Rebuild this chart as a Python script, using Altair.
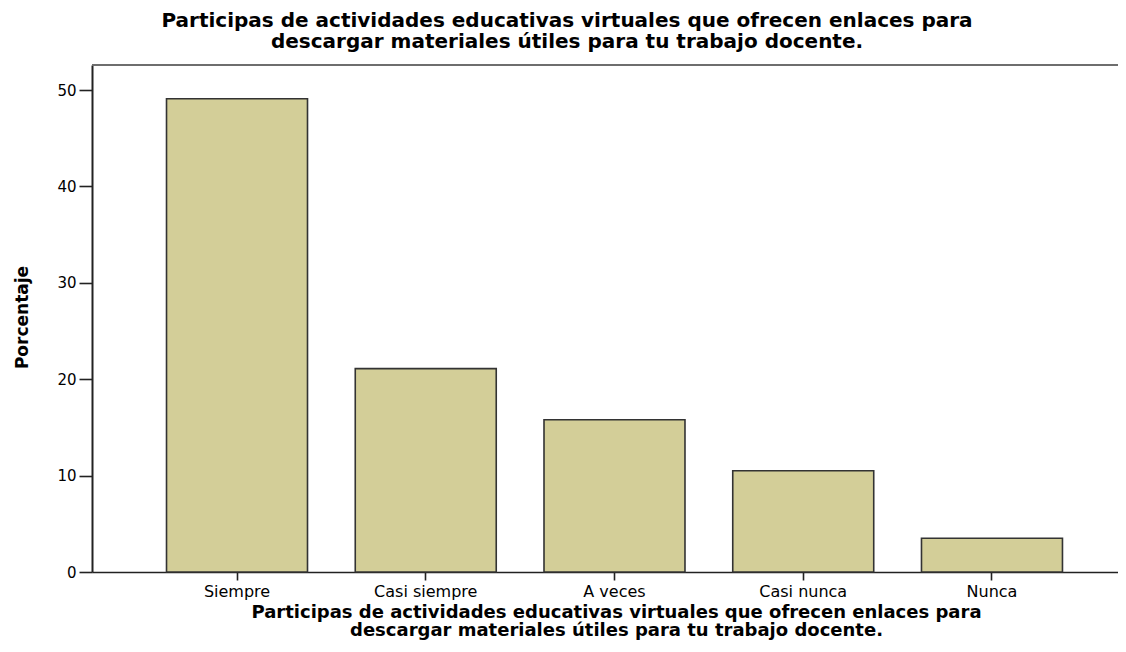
import altair as alt
import pandas as pd

categories = ["Siempre", "Casi siempre", "A veces", "Casi nunca", "Nunca"]
percentages = [49.1, 21.1, 15.8, 10.5, 3.5]
y_ticks = [0, 10, 20, 30, 40, 50]
title_lines = [
    "Participas de actividades educativas virtuales que ofrecen enlaces para",
    "descargar materiales útiles para tu trabajo docente.",
]
y_title = "Porcentaje"

df = pd.DataFrame({"cat": categories, "pct": percentages})

W, H = 1026, 507

bars = alt.Chart(df).mark_bar(
    fill="#D3CE98", stroke="#333333", strokeWidth=1.6
).encode(
    x=alt.X(
        "cat:N",
        sort=categories,
        scale=alt.Scale(paddingInner=0.253, paddingOuter=0.3445, align=0.573),
        axis=alt.Axis(
            title=title_lines,
            titleFont="DejaVu Sans",
            titleFontSize=18,
            titleFontWeight="bold",
            titleColor="black",
            titleLineHeight=18,
            titleBaseline="top",
            titleAlign="center",
            titleX=524,
            titleY=31,
            labelAngle=0,
            labelFont="DejaVu Sans",
            labelFontSize=16,
            labelColor="black",
            labelPadding=3,
            tickSize=8,
            tickColor="#222222",
            tickWidth=1.6,
            domainColor="#222222",
            domainWidth=1.6,
            grid=False,
        ),
    ),
    y=alt.Y(
        "pct:Q",
        scale=alt.Scale(domain=[0, 52.6], nice=False, zero=True),
        axis=alt.Axis(
            values=y_ticks,
            title=y_title,
            titleFont="DejaVu Sans",
            titleFontSize=17,
            titleFontWeight="bold",
            titleColor="black",
            titleAngle=-90,
            titleAlign="center",
            titleBaseline="middle",
            titleX=-70,
            titleY=252,
            labelFont="DejaVu Sans",
            labelFontSize=15,
            labelColor="black",
            labelPadding=3,
            tickSize=13,
            tickColor="#222222",
            tickWidth=1.6,
            domainColor="#222222",
            domainWidth=2,
            grid=False,
        ),
    ),
)

top_line = alt.Chart(pd.DataFrame({"a": [0]})).mark_rule(
    color="#6E6E6E", strokeWidth=2
).encode(x=alt.value(0), x2=alt.value(W + 10), y=alt.value(0))

chart = alt.layer(bars, top_line).properties(
    width=W,
    height=H,
    autosize=alt.AutoSizeParams(type="none"),
    padding={"left": 84, "top": 57, "right": 0, "bottom": 72},
    title=alt.TitleParams(
        text=title_lines,
        font="DejaVu Sans",
        fontSize=20,
        fontWeight="bold",
        color="black",
        lineHeight=21,
        anchor="middle",
        dx=-38,
        offset=12,
    ),
).configure_view(fill="#EFEFEF", stroke=None).configure(background="white")

chart.save("out.html", embed_options={"renderer": "svg", "actions": False})
